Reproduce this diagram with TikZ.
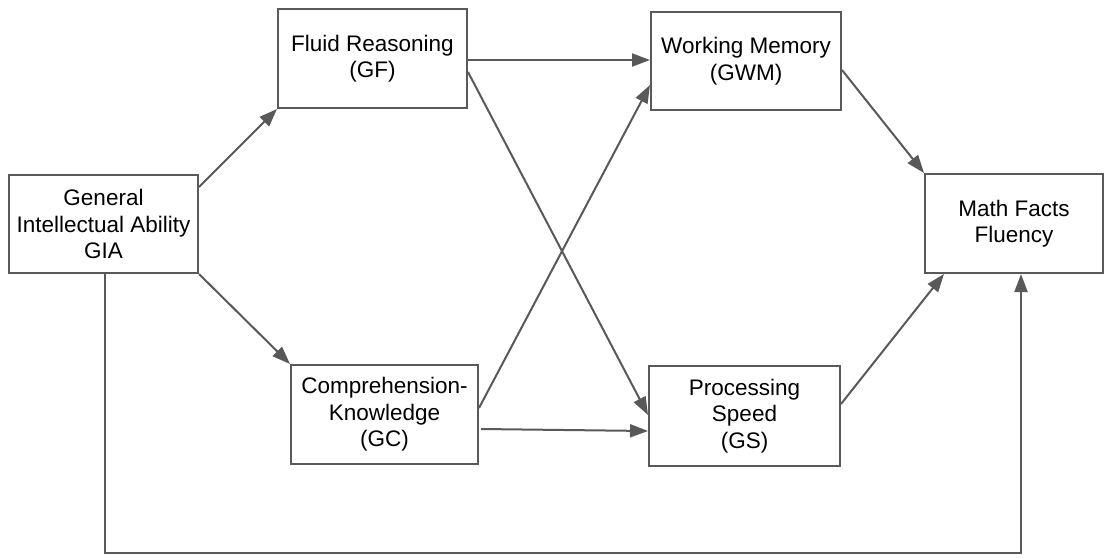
\documentclass[tikz,border=0pt]{standalone}
\usepackage{fontspec}
\setmainfont{Liberation Sans}
\usetikzlibrary{arrows.meta,calc}
\definecolor{edge}{HTML}{595959}
\begin{document}
\begin{tikzpicture}[x=1pt,y=-1pt,
  box/.style={draw=edge,line width=2pt,rectangle,anchor=north west,align=center,
    font=\fontsize{22.5}{26.5}\selectfont,inner sep=0pt},
  link/.style={draw=edge,line width=2pt,-{Triangle[length=18pt,width=13pt]}}]
\useasboundingbox[fill=white] (0,0) rectangle (1106,558);
\node[box,minimum width=189pt,minimum height=98pt] (gia) at (8,174) {General\\Intellectual Ability\\GIA};
\node[box,minimum width=189pt,minimum height=99pt] (gf) at (277,8) {Fluid Reasoning\\(GF)};
\node[box,minimum width=190pt,minimum height=98pt] (gwm) at (650,11) {Working Memory\\(GWM)};
\node[box,minimum width=178pt,minimum height=99pt] (math) at (924,173) {Math Facts\\Fluency};
\node[box,minimum width=187pt,minimum height=99pt] (gc) at (290,364) {Comprehension-\\Knowledge\\(GC)};
\node[box,minimum width=191pt,minimum height=100pt] (gs) at (648,365) {Processing\\Speed\\(GS)};
% connectors
\draw[link] ($(gia.north east)+(0,13)$) -- (gf.south west);
\draw[link] (gia.south east) -- (gc.north west);
\coordinate (a1) at ($(gf.north east)+(0,52)$);
\draw[link] (a1) -- (a1 -| gwm.west);
\draw[link] ($(gf.north east)+(0,64)$) -- ($(gs.north west)+(0,50)$);
\draw[link] ($(gc.north east)+(0,44)$) -- ($(gwm.north west)+(0,74)$);
\draw[link] ($(gc.north east)+(2,65)$) -- ($(gs.north west)+(0,66)$);
\draw[link] ($(gwm.north east)+(0,59)$) -- (math.north west);
\draw[link] ($(gs.north east)+(0,39)$) -- ($(math.south west)+(20,0)$);
\coordinate (b1) at ($(gia.south west)+(97,0)$);
\coordinate (b2) at ($(math.south west)+(97,0)$);
\draw[link] (b1) -- (b1 |- 0,553) -- (b2 |- 0,553) -- (b2);
\end{tikzpicture}
\end{document}
